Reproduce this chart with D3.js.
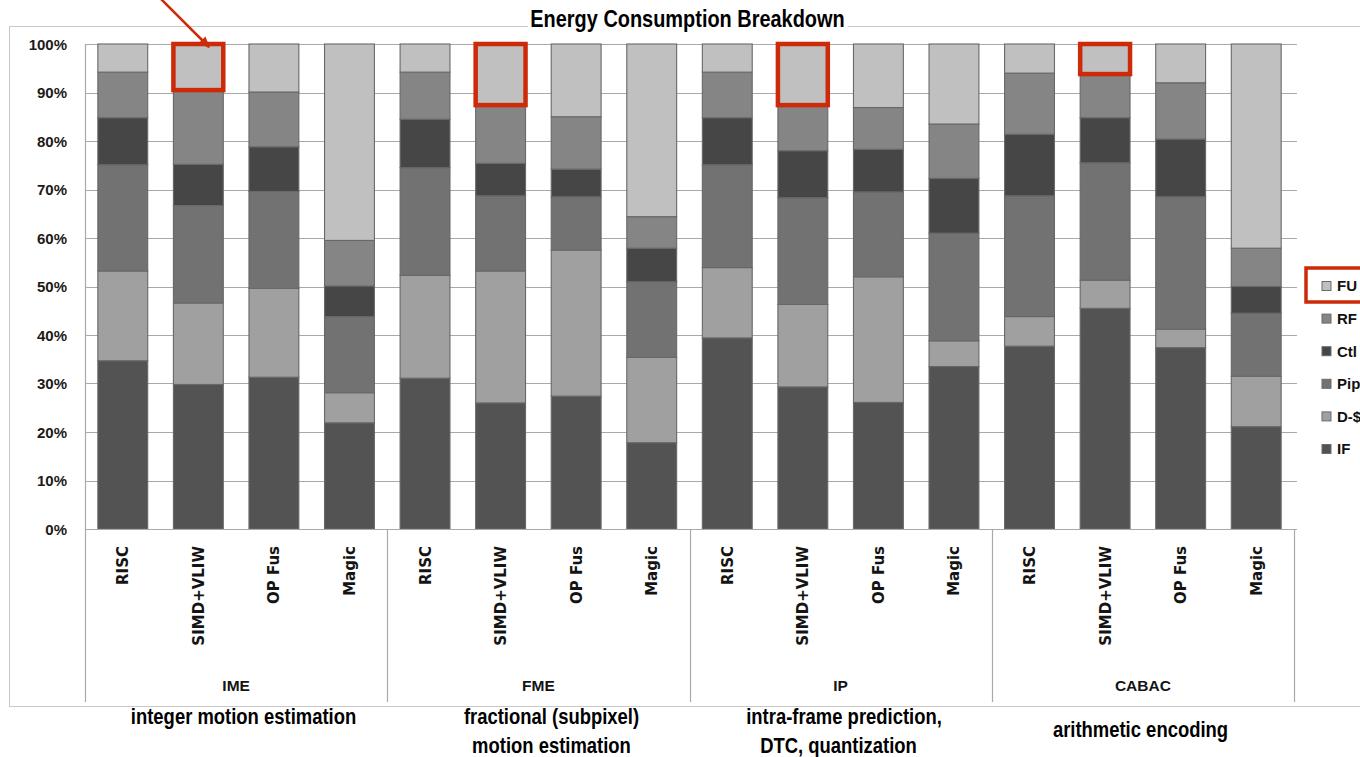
<!DOCTYPE html>
<html>
<head>
<meta charset="utf-8">
<script src="https://cdn.jsdelivr.net/npm/d3@7"></script>
<style>
  html, body { margin: 0; padding: 0; background: #fff; }
  svg { display: block; }
</style>
</head>
<body>
<svg id="chart" width="1360" height="757"></svg>
<script>
// ---------- DATA ----------
const groups = ["IME", "FME", "IP", "CABAC"];
const archs = ["RISC", "SIMD+VLIW", "OP Fus", "Magic"];
const seriesNames = ["IF", "D-$", "Pip", "Ctl", "RF", "FU"];
const yTicks = [0, 10, 20, 30, 40, 50, 60, 70, 80, 90, 100];

const IF   = [34.7, 29.8, 31.3, 21.9, 31.1, 26.0, 27.4, 17.8, 39.4, 29.3, 26.1, 33.5, 37.7, 45.5, 37.4, 21.1];
const DC   = [18.5, 16.8, 18.3,  6.2, 21.2, 27.2, 30.1, 17.6, 14.5, 17.0, 25.9,  5.3,  6.1,  5.8,  3.8, 10.4];
const Pip  = [21.9, 20.1, 20.0, 15.7, 22.2, 15.5, 11.0, 15.6, 21.2, 22.0, 17.5, 22.2, 24.9, 24.2, 27.3, 13.0];
const Ctl  = [ 9.7,  8.5,  9.2,  6.3, 10.0,  6.7,  5.7,  6.9,  9.7,  9.7,  8.8, 11.3, 12.7,  9.3, 11.9,  5.5];
const RF   = [ 9.4, 15.3, 11.3,  9.4,  9.7, 12.0, 10.8,  6.5,  9.4,  9.4,  8.6, 11.2, 12.6,  9.0, 11.6,  7.9];
const FU   = [ 5.8,  9.5,  9.9, 40.5,  5.8, 12.6, 15.0, 35.6,  5.8, 12.6, 13.1, 16.5,  6.0,  6.2,  8.0, 42.1];

const groupNotes = [
  ["integer motion estimation"],
  ["fractional (subpixel)", "motion estimation"],
  ["intra-frame prediction,", "DTC, quantization"],
  ["arithmetic encoding"]
];
const title = "Energy Consumption Breakdown";
const highlightArch = "SIMD+VLIW";
const highlightSeries = "FU";

// ---------- BUILD TABLE ----------
const seriesValues = { "IF": IF, "D-$": DC, "Pip": Pip, "Ctl": Ctl, "RF": RF, "FU": FU };
const rows = [];
groups.forEach((g, gi) => archs.forEach((a, ai) => {
  const i = gi * archs.length + ai;
  const r = { key: g + "|" + a, group: g, arch: a };
  seriesNames.forEach(s => r[s] = seriesValues[s][i]);
  rows.push(r);
}));

const colors = { "IF": "#535353", "D-$": "#a0a0a0", "Pip": "#727272", "Ctl": "#464646", "RF": "#858585", "FU": "#c0c0c0" };
const red = "#cc2a08";
const sans = "'Liberation Sans', Arial, sans-serif";

// ---------- LAYOUT ----------
const svg = d3.select("#chart");
const plot = { left: 85, right: 1294, top: 44, bottom: 529 };

const x = d3.scaleBand().domain(rows.map(r => r.key))
  .range([plot.left, plot.right]).paddingInner(0.34).paddingOuter(0.17);
const y = d3.scaleLinear().domain([0, 100]).range([plot.bottom, plot.top]);
const gx = d3.scaleBand().domain(groups).range([plot.left, plot.right]);

// condensed text helper
function condText(parent, cx, cy, txt, size, sx) {
  return parent.append("text")
    .attr("transform", `translate(${cx},${cy}) scale(${sx},1)`)
    .attr("text-anchor", "middle")
    .attr("font-family", sans).attr("font-weight", "bold").attr("font-size", size)
    .attr("fill", "#000").text(txt);
}

// outer chart border
svg.append("rect").attr("x", 9.5).attr("y", 26.5).attr("width", 1400).attr("height", 680)
  .attr("fill", "none").attr("stroke", "#c8c8c8").attr("stroke-width", 1);

// gridlines
svg.append("g").selectAll("line").data(yTicks).join("line")
  .attr("x1", plot.left).attr("x2", 1297)
  .attr("y1", d => Math.round(y(d)) + 0.5).attr("y2", d => Math.round(y(d)) + 0.5)
  .attr("stroke", "#a9a9a9").attr("stroke-width", 1.2);
svg.append("line").attr("x1", plot.left + 0.5).attr("x2", plot.left + 0.5)
  .attr("y1", y(100)).attr("y2", y(0)).attr("stroke", "#a9a9a9").attr("stroke-width", 1.2);

// y axis labels
const yAxis = d3.axisLeft(y).tickValues(yTicks).tickFormat(d => d + "%").tickSize(0).tickPadding(0);
const ya = svg.append("g").attr("transform", `translate(67,0)`).call(yAxis);
ya.select(".domain").remove();
ya.selectAll("text").attr("font-family", sans)
  .attr("font-weight", "bold").attr("font-size", 15).attr("fill", "#1a1a1a").attr("dy", "0.35em");

// stacked bars
const stack = d3.stack().keys(seriesNames);
const stacked = stack(rows);
const barG = svg.append("g");
stacked.forEach(layer => {
  barG.append("g").selectAll("rect").data(layer).join("rect")
    .attr("x", d => x(d.data.key))
    .attr("width", x.bandwidth())
    .attr("y", d => y(d[1]))
    .attr("height", d => y(d[0]) - y(d[1]))
    .attr("fill", colors[layer.key])
    .attr("stroke", "#686868").attr("stroke-width", 1.1);
});

// category axis frame
svg.append("line").attr("x1", plot.left).attr("x2", plot.right)
  .attr("y1", plot.bottom + 0.5).attr("y2", plot.bottom + 0.5).attr("stroke", "#a9a9a9").attr("stroke-width", 1.2);
const bounds = groups.map(g => gx(g)).concat([plot.right]);
svg.append("g").selectAll("line").data(bounds).join("line")
  .attr("x1", d => Math.round(d) + 0.5).attr("x2", d => Math.round(d) + 0.5)
  .attr("y1", plot.bottom).attr("y2", 702)
  .attr("stroke", "#a9a9a9").attr("stroke-width", 1.2);

// rotated arch labels
svg.append("g").selectAll("text").data(rows).join("text")
  .attr("transform", d => `translate(${x(d.key) + x.bandwidth() / 2 + 5.5},546) rotate(-90)`)
  .attr("text-anchor", "end")
  .attr("font-family", "'DejaVu Sans', Verdana, sans-serif")
  .attr("font-weight", "bold").attr("font-size", 15).attr("fill", "#141414")
  .text(d => d.arch);

// group labels
svg.append("g").selectAll("text").data(groups).join("text")
  .attr("x", d => gx(d) + gx.bandwidth() / 2).attr("y", 691)
  .attr("text-anchor", "middle")
  .attr("font-family", sans).attr("font-weight", "bold").attr("font-size", 15.5).attr("fill", "#141414")
  .text(d => d);

// group notes
const noteG = svg.append("g");
const noteOffsets = [[7.4], [13.1, 13.1], [3.4, -2.1], [-2.4]];
groups.forEach((g, gi) => {
  const lines = groupNotes[gi];
  const cx = gx(g) + gx.bandwidth() / 2;
  const y0 = gi === 3 ? 737 : 724;
  lines.forEach((t, li) => condText(noteG, cx + noteOffsets[gi][li], y0 + li * 29, t, 22.5, 0.82));
});

// legend
const legendYs = d3.scalePoint().domain(seriesNames.slice().reverse()).range([286, 449]);
const lg = svg.append("g");
seriesNames.forEach(s => {
  lg.append("rect").attr("x", 1322).attr("y", legendYs(s) - 4.5).attr("width", 9).attr("height", 9)
    .attr("fill", colors[s]).attr("stroke", "#6a6a6a").attr("stroke-width", 1);
  lg.append("text").attr("x", 1337).attr("y", legendYs(s)).attr("dy", "0.36em")
    .attr("font-family", sans).attr("font-weight", "bold")
    .attr("font-size", 15).attr("fill", "#111").text(s);
});

// title
svg.append("rect").attr("x", 528).attr("y", 8).attr("width", 320).attr("height", 26).attr("fill", "#fff");
condText(svg, 687.5, 27, title, 24.3, 0.82);

// red highlights
const fuLayer = stacked.find(l => l.key === highlightSeries);
svg.append("g").selectAll("rect").data(fuLayer.filter(d => d.data.arch === highlightArch)).join("rect")
  .attr("x", d => x(d.data.key))
  .attr("width", x.bandwidth())
  .attr("y", d => y(d[1]))
  .attr("height", d => y(d[0]) - y(d[1]))
  .attr("fill", "none").attr("stroke", red).attr("stroke-width", 4.5);
svg.append("rect").attr("x", 1306).attr("y", legendYs(highlightSeries) - 18).attr("width", 80).attr("height", 34)
  .attr("fill", "none").attr("stroke", red).attr("stroke-width", 3.5);

// arrow
const defs = svg.append("defs");
defs.append("marker").attr("id", "ah").attr("viewBox", "0 0 10 10").attr("refX", 8).attr("refY", 5)
  .attr("markerWidth", 5).attr("markerHeight", 5).attr("orient", "auto")
  .append("path").attr("d", "M0,1 L9,5 L0,9 Z").attr("fill", red);
svg.append("line").attr("x1", 160).attr("y1", -2).attr("x2", 209).attr("y2", 47)
  .attr("stroke", red).attr("stroke-width", 2.5).attr("marker-end", "url(#ah)");
</script>
</body>
</html>
